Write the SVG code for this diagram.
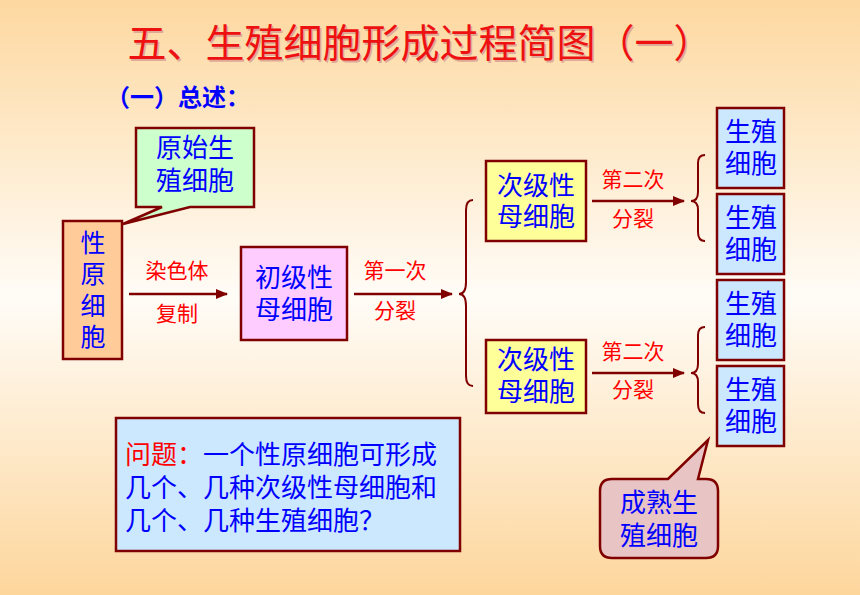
<svg xmlns="http://www.w3.org/2000/svg" width="860" height="595" viewBox="0 0 860 595">
<defs>
<linearGradient id="bg" x1="0" y1="0" x2="0" y2="1">
<stop offset="0" stop-color="#FDD8A0"/>
<stop offset="0.5" stop-color="#FFFCF7"/>
<stop offset="1" stop-color="#FDD69C"/>
</linearGradient>
<marker id="ah" viewBox="0 0 10 10" refX="9" refY="5" markerWidth="5" markerHeight="5" orient="auto" markerUnits="strokeWidth">
<path d="M0,1 L10,5 L0,9 Z" fill="#800000"/>
</marker>
</defs>
<style>
text{font-family:"Liberation Sans","Noto Sans CJK SC","Noto Sans CJK JP",sans-serif}
.box{stroke:#800000;stroke-width:2.5}
.t{fill:#0000FF;font-size:26px;text-anchor:middle}
.v{fill:#0000FF;font-size:25px;text-anchor:middle}
.r{fill:#FF0000;font-size:21px;text-anchor:middle}
.q{fill:#0000FF;font-size:26px}
.ln{stroke:#800000;stroke-width:2.5;fill:none}
.br{stroke:#800000;stroke-width:2;fill:none}
</style>
<rect x="0" y="0" width="860" height="595" fill="url(#bg)"/>
<g id="title">
<text x="420" y="57" font-size="39" fill="#CC8888" text-anchor="middle" opacity="0.6" transform="translate(1.5,1.5)">五、生殖细胞形成过程简图（一）</text>
<text x="420" y="57" font-size="39" fill="#EE1111" text-anchor="middle">五、生殖细胞形成过程简图（一）</text>
</g>
<g id="subtitle">
<text x="106" y="106" font-size="24" font-weight="bold" fill="#0000FF">（一）总述：</text>
</g>
<g id="yuanshi">
<path class="box" d="M136,128 H254 V207 H190 L123,224 L162,207 H136 Z" fill="#CCFFCC"/>
<text class="t" x="195" y="157">原始生<tspan x="195" dy="33">殖细胞</tspan></text>
</g>
<g id="xingyuan">
<rect class="box" x="63" y="221" width="59" height="138" fill="#FFCC99"/>
<text class="v" x="93" y="252">性<tspan x="93" dy="31">原</tspan><tspan x="93" dy="32">细</tspan><tspan x="93" dy="31">胞</tspan></text>
</g>
<g id="chuji">
<rect class="box" x="241" y="247" width="106" height="93" fill="#FFCCFF"/>
<text class="t" x="294" y="287">初级性<tspan x="294" dy="32">母细胞</tspan></text>
</g>
<g id="ciji1">
<rect class="box" x="486" y="161" width="100" height="80" fill="#FFFF99"/>
<text class="t" x="536" y="195">次级性<tspan x="536" dy="31">母细胞</tspan></text>
</g>
<g id="ciji2">
<rect class="box" x="486" y="340" width="100" height="73" fill="#FFFF99"/>
<text class="t" x="536" y="369">次级性<tspan x="536" dy="32">母细胞</tspan></text>
</g>
<g id="shengzhi1">
<rect class="box" x="717" y="108" width="67" height="80" fill="#CCE8FF"/>
<text class="t" x="751" y="141">生殖<tspan x="751" dy="32">细胞</tspan></text>
</g>
<g id="shengzhi2">
<rect class="box" x="717" y="194" width="67" height="80" fill="#CCE8FF"/>
<text class="t" x="751" y="227">生殖<tspan x="751" dy="32">细胞</tspan></text>
</g>
<g id="shengzhi3">
<rect class="box" x="717" y="280" width="67" height="80" fill="#CCE8FF"/>
<text class="t" x="751" y="313">生殖<tspan x="751" dy="32">细胞</tspan></text>
</g>
<g id="shengzhi4">
<rect class="box" x="717" y="366" width="67" height="80" fill="#CCE8FF"/>
<text class="t" x="751" y="399">生殖<tspan x="751" dy="32">细胞</tspan></text>
</g>
<g id="question">
<rect class="box" x="116" y="418" width="344" height="133" fill="#CCE8FF"/>
<text class="q" x="125" y="464"><tspan fill="#FF0000">问题：</tspan>一个性原细胞可形成<tspan x="125" dy="33">几个、几种次级性母细胞和</tspan><tspan x="125" dy="33">几个、几种生殖细胞？</tspan></text>
</g>
<g id="chengshu">
<path class="box" d="M612,479 H668 L708,440 L698,479 H706 Q718,479 718,491 V546 Q718,558 706,558 H612 Q600,558 600,546 V491 Q600,479 612,479 Z" fill="#E8C4C4"/>
<text class="t" x="659" y="512">成熟生<tspan x="659" dy="33">殖细胞</tspan></text>
</g>
<g id="connectors">
<line class="ln" x1="129" y1="294" x2="227" y2="294" marker-end="url(#ah)"/>
<line class="ln" x1="354" y1="294" x2="452" y2="294" marker-end="url(#ah)"/>
<line class="ln" x1="592" y1="201" x2="684" y2="201" marker-end="url(#ah)"/>
<line class="ln" x1="592" y1="373" x2="684" y2="373" marker-end="url(#ah)"/>
<path class="br" d="M473,200 Q466,200 466,210 V282 Q466,294 459,294 Q466,294 466,306 V376 Q466,386 473,386"/>
<path class="br" d="M705,155 Q698,155 698,163 V192 Q698,201 691,201 Q698,201 698,210 V232 Q698,241 705,241"/>
<path class="br" d="M705,327 Q698,327 698,335 V364 Q698,373 691,373 Q698,373 698,382 V404 Q698,413 705,413"/>
<text class="r" x="177" y="278">染色体</text>
<text class="r" x="177" y="321">复制</text>
<text class="r" x="395" y="278">第一次</text>
<text class="r" x="395" y="318">分裂</text>
<text class="r" x="633" y="187">第二次</text>
<text class="r" x="633" y="226">分裂</text>
<text class="r" x="633" y="359">第二次</text>
<text class="r" x="633" y="397">分裂</text>
</g>
</svg>
